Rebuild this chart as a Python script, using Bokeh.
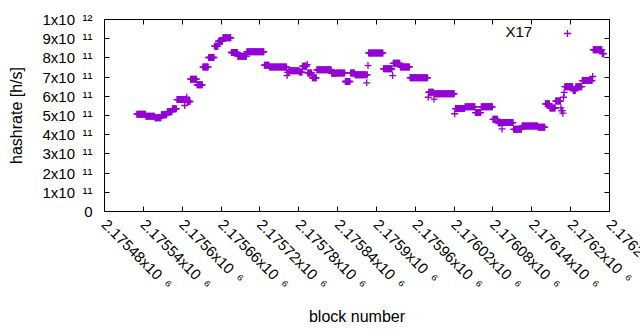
import math
import numpy as np
from bokeh.plotting import figure
from bokeh.models import (Range1d, FixedTicker, LinearAxis, Label, Legend,
                          LegendItem, ColumnDataSource)
from bokeh.embed import file_html
from bokeh.resources import INLINE

# ---- data (run-length segments) ----
# first block, last block, hashrate (x 1e11 h/s)
seg_first = [2175530, 2175544, 2175558, 2175568, 2175577, 2175585, 2175592, 2175604,
             2175605, 2175607, 2175608, 2175609, 2175613, 2175623, 2175632, 2175641,
             2175650, 2175656, 2175663, 2175676, 2175686, 2175700, 2175727, 2175735,
             2175762, 2175763, 2175765, 2175781, 2175786, 2175793, 2175794, 2175801,
             2175808, 2175831, 2175839, 2175852, 2175860, 2175867, 2175885, 2175886,
             2175887, 2175888, 2175911, 2175925, 2175926, 2175937, 2175952, 2175980,
             2175981, 2175989, 2175990, 2176021, 2176022, 2176037, 2176053, 2176062,
             2176080, 2176088, 2176094, 2176095, 2176112, 2176125, 2176150, 2176161,
             2176168, 2176177, 2176185, 2176186, 2176188, 2176189, 2176190, 2176191,
             2176204, 2176208, 2176218, 2176234, 2176235, 2176249]
seg_last = [2175543, 2175557, 2175567, 2175576, 2175584, 2175591, 2175603, 2175604,
            2175606, 2175607, 2175608, 2175612, 2175622, 2175631, 2175640, 2175649,
            2175655, 2175662, 2175675, 2175685, 2175699, 2175726, 2175734, 2175761,
            2175762, 2175764, 2175780, 2175785, 2175792, 2175793, 2175800, 2175807,
            2175830, 2175838, 2175851, 2175859, 2175866, 2175884, 2175885, 2175886,
            2175887, 2175910, 2175924, 2175925, 2175936, 2175951, 2175979, 2175980,
            2175988, 2175989, 2176020, 2176021, 2176036, 2176052, 2176061, 2176079,
            2176087, 2176093, 2176094, 2176111, 2176124, 2176149, 2176160, 2176167,
            2176176, 2176184, 2176185, 2176187, 2176188, 2176189, 2176190, 2176203,
            2176207, 2176217, 2176233, 2176234, 2176248, 2176251]
seg_rate = [5.07, 4.96, 4.88, 5.04, 5.20, 5.35, 5.83, 5.52,
            5.83, 5.95, 5.69, 5.73, 6.89, 6.60, 7.52, 8.02,
            8.61, 8.87, 9.05, 8.28, 8.08, 8.32, 7.62, 7.53,
            7.08, 7.25, 7.33, 7.26, 7.57, 7.65, 7.22, 6.96,
            7.38, 7.20, 7.22, 6.77, 7.22, 7.12, 6.70, 7.12,
            7.60, 8.26, 7.43, 7.08, 7.72, 7.53, 6.96, 5.95,
            6.21, 5.85, 6.13, 5.09, 5.36, 5.45, 5.15, 5.45,
            4.80, 4.62, 4.30, 4.63, 4.28, 4.45, 4.39, 5.61,
            5.39, 5.75, 5.40, 5.25, 5.12, 5.95, 6.20, 6.50,
            6.30, 6.50, 6.82, 7.03, 8.42, 8.22]
series_name = "X17"

x_tick_blocks = [2175480, 2175540, 2175600, 2175660, 2175720, 2175780, 2175840,
                 2175900, 2175960, 2176020, 2176080, 2176140, 2176200, 2176260]
x_tick_labels = ["2.17548x10\u2002\u2076", "2.17554x10\u2002\u2076", "2.1756x10\u2002\u2076",
                 "2.17566x10\u2002\u2076", "2.17572x10\u2002\u2076", "2.17578x10\u2002\u2076",
                 "2.17584x10\u2002\u2076", "2.1759x10\u2002\u2076", "2.17596x10\u2002\u2076",
                 "2.17602x10\u2002\u2076", "2.17608x10\u2002\u2076", "2.17614x10\u2002\u2076",
                 "2.1762x10\u2002\u2076", "2.17626x10\u2002\u2076"]
y_tick_values = [0, 100000000000, 200000000000, 300000000000, 400000000000,
                 500000000000, 600000000000, 700000000000, 800000000000,
                 900000000000, 1000000000000]
y_tick_labels = ["0", "1x10\u2002\u00b9\u00b9", "2x10\u2002\u00b9\u00b9", "3x10\u2002\u00b9\u00b9",
                 "4x10\u2002\u00b9\u00b9", "5x10\u2002\u00b9\u00b9", "6x10\u2002\u00b9\u00b9",
                 "7x10\u2002\u00b9\u00b9", "8x10\u2002\u00b9\u00b9", "9x10\u2002\u00b9\u00b9",
                 "1x10\u2002\u00b9\u00b2"]

blocks = np.concatenate([np.arange(f, l + 1) for f, l in zip(seg_first, seg_last)])
rates = np.concatenate([np.full(l - f + 1, r * 1e11)
                        for f, l, r in zip(seg_first, seg_last, seg_rate)])
source = ColumnDataSource(dict(block=blocks, rate=rates))

FONT = "Liberation Sans"
PURPLE = "#9400d3"
FW, FH = 505, 192

# canvas is wider than the page so the last tick label runs off the edge,
# as in the reference; the element itself is clipped to the 640px window.
p = figure(frame_width=FW, frame_height=FH,
           min_border_left=104, min_border_right=111, min_border_top=19, min_border_bottom=119,
           x_range=Range1d(x_tick_blocks[0], x_tick_blocks[-1]),
           y_range=Range1d(y_tick_values[0], y_tick_values[-1]),
           output_backend="svg", toolbar_location=None,
           stylesheets=[":host { max-width: 640px !important; overflow: hidden !important; }"])
p.xgrid.visible = False
p.ygrid.visible = False
p.outline_line_color = "black"
p.outline_line_width = 1
p.background_fill_color = "white"
p.border_fill_color = "white"

xa = p.xaxis[0]
xa.ticker = FixedTicker(ticks=x_tick_blocks)
xa.major_label_overrides = dict(zip(x_tick_blocks, x_tick_labels))
xa.major_label_orientation = -math.pi / 4
xa.major_label_standoff = 10
xa.major_tick_in = 5
xa.major_tick_out = 0
xa.minor_tick_line_color = None
xa.axis_line_color = "black"
xa.major_label_text_font = FONT
xa.major_label_text_font_size = "15px"
xa.major_label_text_color = "black"
xa.axis_label = "block number"
xa.axis_label_text_font = FONT
xa.axis_label_text_font_size = "16px"
xa.axis_label_text_font_style = "normal"
xa.axis_label_text_color = "black"
xa.axis_label_standoff = 6

ya = p.yaxis[0]
ya.ticker = FixedTicker(ticks=y_tick_values)
ya.major_label_overrides = dict(zip(y_tick_values, y_tick_labels))
ya.major_label_standoff = 12
ya.major_tick_in = 5
ya.major_tick_out = 0
ya.minor_tick_line_color = None
ya.axis_line_color = "black"
ya.major_label_text_font = FONT
ya.major_label_text_font_size = "15px"
ya.major_label_text_color = "black"
ya.axis_label = "hashrate [h/s]"
ya.axis_label_text_font = FONT
ya.axis_label_text_font_size = "16px"
ya.axis_label_text_font_style = "normal"
ya.axis_label_text_color = "black"
ya.axis_label_standoff = 14

# mirrored tick marks on top and right
top = LinearAxis(ticker=FixedTicker(ticks=x_tick_blocks),
                 major_label_overrides={t: "" for t in x_tick_blocks},
                 major_label_text_font_size="0px", major_label_standoff=0,
                 major_tick_in=5, major_tick_out=0, minor_tick_line_color=None,
                 axis_line_color="black")
p.add_layout(top, "above")
right = LinearAxis(ticker=FixedTicker(ticks=y_tick_values),
                   major_label_overrides={t: "" for t in y_tick_values},
                   major_label_text_font_size="0px", major_label_standoff=0,
                   major_tick_in=5, major_tick_out=0, minor_tick_line_color=None,
                   axis_line_color="black")
p.add_layout(right, "right")

r = p.scatter("block", "rate", source=source, marker="cross", size=7,
              line_color=PURPLE, line_width=1.3)

# key: text then sample
p.add_layout(Label(x=427.7, y=180, x_units="screen", y_units="screen", text=series_name,
                   text_align="right", text_baseline="middle", text_font=FONT,
                   text_font_size="15px", text_color="black"))
leg = Legend(items=[LegendItem(label=" ", renderers=[r])], location=(454, 169.5),
             padding=0, margin=0, spacing=0, glyph_width=18, glyph_height=18,
             label_width=0, label_standoff=0, label_text_font_size="8px",
             border_line_color=None, background_fill_alpha=0)
p.add_layout(leg)

open("out.html", "w").write(file_html(p, INLINE))
